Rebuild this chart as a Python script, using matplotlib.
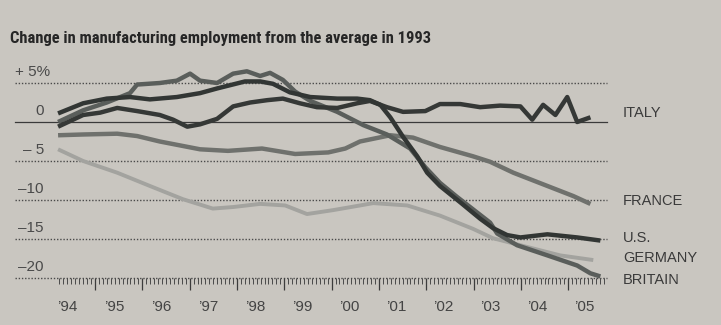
import matplotlib
matplotlib.use("Agg")
import matplotlib.pyplot as plt
import numpy as np

plt.rcParams["font.family"] = ["Liberation Sans", "DejaVu Sans"]

title = "Change in manufacturing employment from the average in 1993"

# percent change from the 1993 average, read at decimal-year positions
italy_years = [1994.22, 1994.75, 1995.11, 1995.47, 1995.89, 1996.37, 1996.65, 1996.95,
               1997.22, 1997.58, 1997.92, 1998.28, 1998.64, 1998.97, 1999.33, 1999.69,
               2000.12, 2000.54, 2000.81, 2001.17, 2001.51, 2001.98, 2002.29, 2002.72,
               2003.14, 2003.56, 2003.99, 2004.24, 2004.47, 2004.73, 2004.98, 2005.19,
               2005.47]
italy_pct = [-0.6, 0.9, 1.2, 1.8, 1.4, 0.9, 0.3, -0.6,
             -0.3, 0.4, 2.0, 2.5, 2.8, 3.0, 2.4, 1.9,
             1.8, 2.4, 2.7, 1.9, 1.3, 1.4, 2.3, 2.3,
             1.9, 2.1, 2.0, 0.3, 2.2, 0.9, 3.2, 0.0,
             0.6]

us_years = [1994.22, 1994.75, 1995.25, 1995.74, 1996.16, 1996.73, 1997.22, 1997.58,
            1998.17, 1998.49, 1998.76, 1999.12, 1999.55, 2000.12, 2000.54, 2000.81,
            2001.03, 2001.24, 2001.51, 2001.81, 2002.02, 2002.29, 2002.72, 2003.14,
            2003.41, 2003.71, 2003.99, 2004.56, 2005.19, 2005.68]
us_pct = [1.1, 2.4, 3.0, 3.2, 2.9, 3.2, 3.7, 4.3,
          5.2, 5.2, 4.9, 3.8, 3.2, 3.0, 3.0, 2.8,
          2.2, 0.6, -1.9, -4.4, -6.5, -8.2, -10.3, -12.4,
          -13.6, -14.5, -14.8, -14.4, -14.8, -15.2]

britain_years = [1994.22, 1994.75, 1995.25, 1995.74, 1995.89, 1996.37, 1996.73, 1997.01,
                 1997.22, 1997.58, 1997.92, 1998.21, 1998.49, 1998.70, 1998.97, 1999.23,
                 1999.55, 2000.12, 2000.67, 2001.17, 2001.66, 2001.98, 2002.29, 2002.65,
                 2002.99, 2003.35, 2003.50, 2003.92, 2004.56, 2005.19, 2005.47, 2005.68]
britain_pct = [0.0, 1.5, 2.5, 3.7, 4.8, 5.0, 5.3, 6.2,
               5.3, 5.0, 6.2, 6.5, 5.9, 6.3, 5.4, 3.9,
               2.7, 1.3, -0.4, -1.6, -3.4, -5.8, -7.8, -9.6,
               -11.2, -12.9, -14.3, -15.8, -17.1, -18.4, -19.4, -19.8]

france_years = [1994.22, 1994.75, 1995.47, 1995.89, 1996.37, 1997.22, 1997.81, 1998.53,
                1999.23, 1999.93, 2000.29, 2000.60, 2001.24, 2001.72, 2002.29, 2002.99,
                2003.35, 2003.84, 2004.56, 2005.11, 2005.47]
france_pct = [-1.7, -1.6, -1.5, -1.8, -2.5, -3.5, -3.7, -3.4,
              -4.1, -3.9, -3.4, -2.5, -1.7, -2.0, -3.2, -4.4,
              -5.1, -6.5, -8.2, -9.5, -10.5]

germany_years = [1994.22, 1994.75, 1995.47, 1996.16, 1996.86, 1997.49, 1997.92, 1998.49,
                 1999.02, 1999.48, 2000.03, 2000.60, 2000.88, 2001.60, 2002.29, 2002.99,
                 2003.41, 2003.99, 2004.83, 2005.53]
germany_pct = [-3.5, -5.0, -6.5, -8.2, -9.9, -11.1, -10.9, -10.5,
               -10.7, -11.8, -11.3, -10.7, -10.4, -10.7, -12.0, -13.7,
               -14.9, -15.8, -17.1, -17.7]

y_ticks = [5, 0, -5, -10, -15, -20]
y_tick_labels = ["+ 5%", "0", "\u2013 5", "\u201310", "\u201315", "\u201320"]
year_labels = ["\u201994", "\u201995", "\u201996", "\u201997", "\u201998", "\u201999",
               "\u201900", "\u201901", "\u201902", "\u201903", "\u201904", "\u201905"]

paper = "#c9c6c0"
fig = plt.figure(figsize=(7.21, 3.25), dpi=100, facecolor=paper)
ax = fig.add_axes([15 / 721, 47 / 325, 592 / 721, 195 / 325])
ax.set_facecolor(paper)
ax.set_xlim(1993.31, 2005.82)
ax.set_ylim(-20, 5)
for s in ax.spines.values():
    s.set_visible(False)

# dotted grid, solid zero line
for v in y_ticks:
    if v == 0:
        ax.axhline(0, color="#3a3a3a", lw=0.9, clip_on=False, zorder=1)
    else:
        ax.axhline(v, color="#4a4a4a", lw=1.0, ls=(0, (1, 1.3)), clip_on=False, zorder=1)

series = [
    (germany_years, germany_pct, "#a3a39f", 2.8),
    (france_years, france_pct, "#6f716d", 3.2),
    (britain_years, britain_pct, "#5a5e5b", 3.2),
    (italy_years, italy_pct, "#353836", 3.2),
    (us_years, us_pct, "#323634", 3.2),
]
for xs, ys, col, lw in series:
    ax.plot(xs, ys, color=col, lw=lw, solid_joinstyle="round", solid_capstyle="butt",
            clip_on=False, zorder=3)

# monthly ticks hanging under the bottom rule
ax.set_xticks(range(1995, 2006))
ax.set_xticks(np.arange(1994.25, 2005.76, 1 / 12), minor=True)
ax.tick_params(axis="x", which="major", length=8.5, width=0.9, color="#3c3c3c",
               direction="out", labelbottom=False)
ax.tick_params(axis="x", which="minor", length=4.5, width=0.7, color="#4a4a4a",
               direction="out")
ax.set_yticks([])

for i, lab in enumerate(year_labels):
    ax.annotate(lab, (1994.41 + i * 0.993, -20), xytext=(0, -21), textcoords="offset points",
                ha="center", va="center", fontsize=11, color="#444444")

for v, lab in zip(y_ticks, y_tick_labels):
    if lab.endswith("%"):
        ax.text(1993.31, v + 1.35, lab, ha="left", va="center", fontsize=11,
                color="#4a4a4a", clip_on=False)
    else:
        ax.text(1993.92, v + 1.35, lab, ha="right", va="center", fontsize=11,
                color="#4a4a4a", clip_on=False)

# country names at the right end
names = [("ITALY", 1.1), ("FRANCE", -10.1), ("U.S.", -14.9), ("GERMANY", -17.5), ("BRITAIN", -20.3)]
for name, v in names:
    ax.text(2006.16, v, name, ha="left", va="center", fontsize=10.5, color="#3a3a3a",
            clip_on=False)

fig.text(10 / 721, 1 - 38 / 325, title, ha="left", va="center", fontsize=11.9,
         fontweight="bold", color="#262626",
         family=["Roboto Condensed", "Roboto", "DejaVu Sans"])

fig.savefig("out.png", dpi=100, facecolor=paper)
